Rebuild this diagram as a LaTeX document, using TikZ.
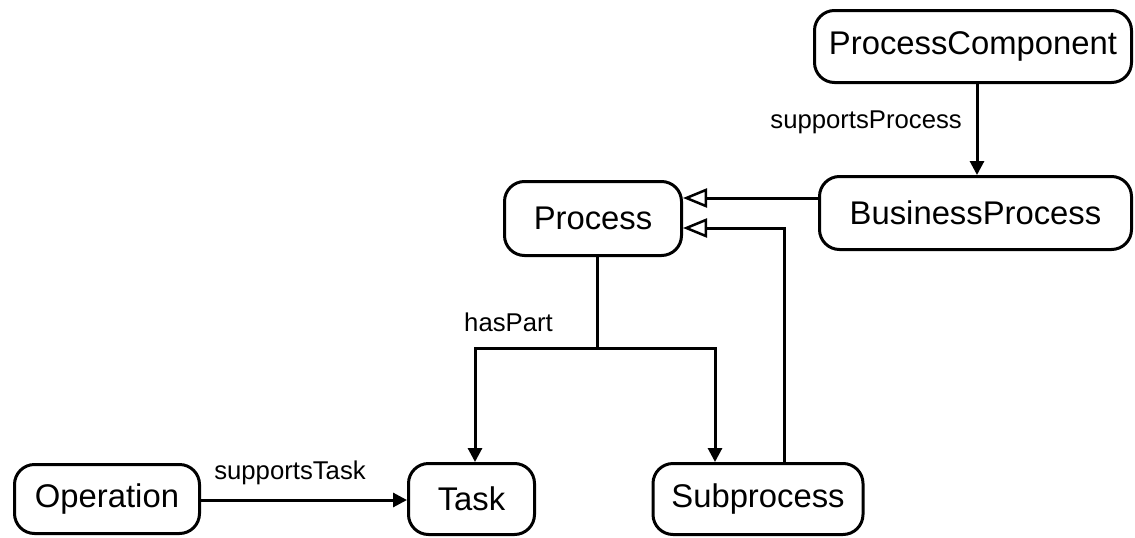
\documentclass[tikz,border=0pt]{standalone}
\usepackage{fontspec}
\setmainfont{Liberation Sans}
\usetikzlibrary{arrows.meta,calc}
\begin{document}
\begin{tikzpicture}[x=1pt,y=-1pt,
  cls/.style={draw, line width=3pt, rounded corners=20pt, inner sep=0pt,
    font=\fontsize{32.8}{36}\selectfont},
  conn/.style={line width=3pt},
  assoc/.style={conn, -{Triangle[length=14pt,width=14pt]}},
  gen/.style={conn, -{Triangle[open,length=24pt,width=19pt,line width=2.5pt]}},
  lbl/.style={font=\fontsize{25.7}{28}\selectfont, inner sep=0pt}]
\useasboundingbox (0,0) rectangle (1135,538);
\node[cls, minimum width=317pt, minimum height=72pt] (PC) at (973,46.5) {ProcessComponent};
\node[cls, minimum width=312pt, minimum height=73pt] (BP) at (975.5,213) {BusinessProcess};
\node[cls, minimum width=177pt, minimum height=74pt] (P) at (593,218.5) {Process};
\node[cls, minimum width=185pt, minimum height=69pt] (Op) at (107,499) {Operation};
\node[cls, minimum width=126pt, minimum height=71pt] (T) at (471.5,499) {Task};
\node[cls, minimum width=210pt, minimum height=71pt] (S) at (758,499) {Subprocess};
\coordinate (xa) at (977,0);
\coordinate (y1) at (0,198);
\coordinate (y2) at (0,228);
\coordinate (xs) at (784,0);
\coordinate (xp) at (597,0);
\coordinate (xt) at (475,0);
\coordinate (xsb) at (715,0);
\coordinate (yh) at (0,348);
\coordinate (yo) at (0,500);
\draw[assoc] (PC.south -| xa) -- (BP.north -| xa);
\node[lbl, anchor=east] (lsp) at (962,122) {supportsProcess};
\draw[gen] (BP.west |- y1) -- (P.east |- y1);
\draw[gen] (S.north -| xs) -- (xs |- y2) -- (P.east |- y2);
\draw[conn] (P.south -| xp) -- (xp |- yh);
\draw[assoc] (xp |- yh) -- (xt |- yh) -- (T.north -| xt);
\draw[assoc] (xp |- yh) -- (xsb |- yh) -- (S.north -| xsb);
\node[lbl, anchor=east] (lhp) at (553,322) {hasPart};
\draw[assoc] (Op.east |- yo) -- (T.west |- yo);
\node[lbl] (lst) at (290,473) {supportsTask};
\end{tikzpicture}
\end{document}
